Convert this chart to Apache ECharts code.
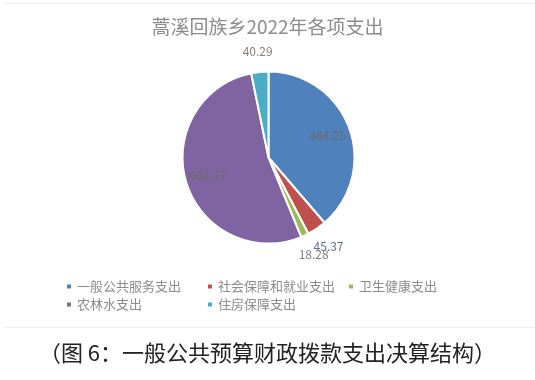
<!DOCTYPE html>
<html>
<head>
<meta charset="utf-8">
<script src="https://cdn.jsdelivr.net/npm/echarts@6/dist/echarts.min.js"></script>
<style>
html,body{margin:0;padding:0;background:#fff;}
#c{width:535px;height:380px;}
</style>
</head>
<body>
<div id="c"></div>
<script>
const titleText = '蒿溪回族乡2022年各项支出';
const captionText = '（图 6：一般公共预算财政拨款支出决算结构）';
const categories = ['一般公共服务支出', '社会保障和就业支出', '卫生健康支出', '农林水支出', '住房保障支出'];
const values = [484.25, 45.37, 18.28, 662.77, 40.29];
const colors = ['#4f81bd', '#c0504d', '#9bbb59', '#8064a2', '#4bacc6'];
const insideIdx = [0, 3];
const labelColors = ['#6b6b6b', '#5f6f8f', '#7f7f7f', '#6b6b6b', '#8a8078'];

const chart = echarts.init(document.getElementById('c'));
const center = [268.5, 157.5];
const R = 86;

const mainData = categories.map((n, i) => ({ name: n, value: values[i], itemStyle: { color: colors[i] } }));
const labelData = (show) => categories.map((n, i) => ({
  name: n, value: values[i],
  itemStyle: { color: 'rgba(0,0,0,0)', borderWidth: 0 },
  label: { show: show(i), color: labelColors[i] }
}));

chart.setOption({
  animation: false,
  title: {
    text: titleText, left: 'center', top: 12,
    textStyle: { fontFamily: 'Noto Sans CJK SC', fontSize: 19, fontWeight: 'normal', color: '#8c8c8c' }
  },
  legend: {
    data: categories,
    left: 60, top: 275, width: 430,
    orient: 'horizontal',
    icon: 'rect', itemWidth: 6, itemHeight: 6, itemGap: 5,
    textStyle: { fontFamily: 'Noto Sans CJK SC', fontSize: 13, color: '#8c8c8c', width: 124, lineHeight: 9, padding: 0 },
    selectedMode: false
  },
  graphic: [
    { type: 'line', shape: { x1: 3, y1: 3.5, x2: 535, y2: 3.5 }, style: { stroke: '#eeeeee', lineWidth: 1 } },
    { type: 'line', shape: { x1: 3, y1: 327.5, x2: 535, y2: 327.5 }, style: { stroke: '#eeeeee', lineWidth: 1 } },
    { type: 'text', left: 'center', top: 342, style: { text: captionText, fontFamily: 'Noto Sans CJK SC', fontSize: 22, fill: '#222' } }
  ],
  series: [
    {
      type: 'pie', center: center, radius: [0, R], startAngle: 90, clockwise: true,
      silent: true,
      itemStyle: { borderColor: '#fff', borderWidth: 2 },
      label: { show: false }, labelLine: { show: false },
      data: mainData
    },
    {
      type: 'pie', center: center, radius: [R * 0.4, R], startAngle: 90, clockwise: true,
      silent: true, legendHoverLink: false,
      label: { position: 'inside', fontFamily: 'Noto Sans CJK SC', fontSize: 12, formatter: '{c}' },
      labelLine: { show: false },
      labelLayout: { hideOverlap: false },
      data: labelData(i => insideIdx.includes(i))
    },
    {
      type: 'pie', center: center, radius: [R * 1.0, R * 1.42], startAngle: 90, clockwise: true,
      silent: true, legendHoverLink: false,
      label: { position: 'inside', fontFamily: 'Noto Sans CJK SC', fontSize: 12, formatter: '{c}' },
      labelLine: { show: false },
      labelLayout: { hideOverlap: false },
      data: labelData(i => !insideIdx.includes(i))
    }
  ]
});
</script>
</body>
</html>
